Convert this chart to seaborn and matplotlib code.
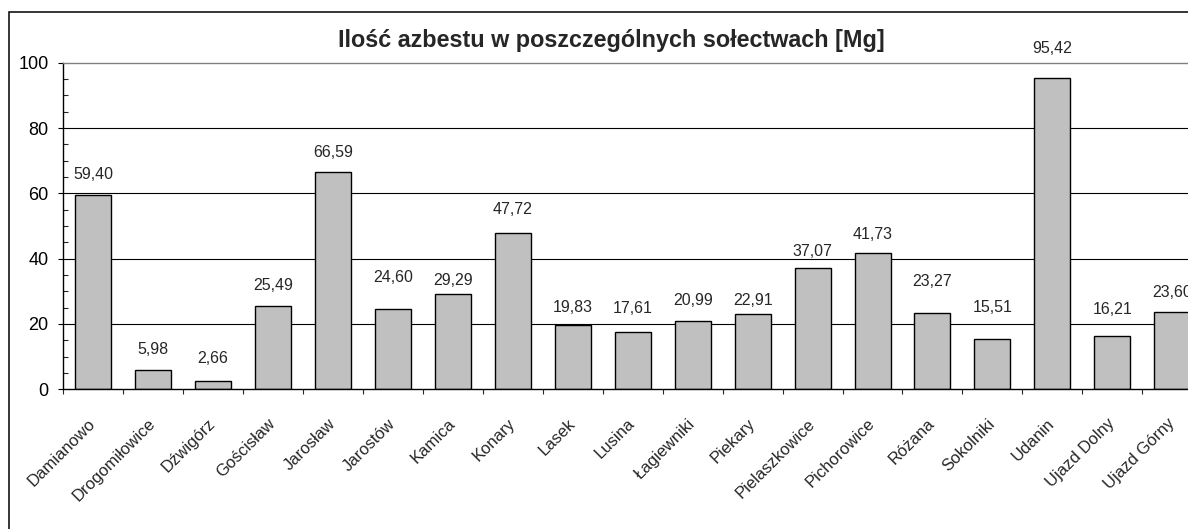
#!/usr/bin/env python3
"""
Wykres: ilość azbestu w poszczególnych sołectwach [Mg]
"""

import matplotlib
matplotlib.use('Agg')
import matplotlib.pyplot as plt
from matplotlib.patches import Rectangle
from matplotlib.ticker import MultipleLocator, FixedLocator
import seaborn as sns
import pandas as pd

# Dane
categories = ['Damianowo', 'Drogomiłowice', 'Dźwigórz', 'Gościsław', 'Jarosław',
              'Jarostów', 'Kamica', 'Konary', 'Lasek', 'Lusina', 'Łagiewniki',
              'Piekary', 'Pielaszkowice', 'Pichorowice', 'Różana', 'Sokolniki',
              'Udanin', 'Ujazd Dolny', 'Ujazd Górny']
values = [59.40, 5.98, 2.66, 25.49, 66.59, 24.60, 29.29, 47.72, 19.83, 17.61,
          20.99, 22.91, 37.07, 41.73, 23.27, 15.51, 95.42, 16.21, 23.60]
y_ticks = [0, 20, 40, 60, 80, 100]
title = 'Ilość azbestu w poszczególnych sołectwach [Mg]'

# przesunięcie etykiet nad słupkami (px), ręcznie ustawione jak w oryginale
label_lift_px = [21, 20, 22, 21, 19, 31, 13, 24, 17, 23, 20, 14, 17, 19, 32, 31, 29, 27, 20]

W, H = 1188, 529

sns.set_style('white')
plt.rcParams['font.family'] = ['Liberation Sans', 'DejaVu Sans']

fig = plt.figure(figsize=(W / 100, H / 100), dpi=100)
fig.patch.set_facecolor('white')

# obszar wykresu wychodzi poza prawą krawędź obrazka (jak w oryginale)
ax = fig.add_axes([63.3 / W, (H - 389.3) / H, 1138.9 / W, 326.6 / H])

df = pd.DataFrame({'solectwo': categories, 'ilosc': values})
sns.barplot(data=df, x='solectwo', y='ilosc', color='#C0C0C0', saturation=1,
            edgecolor='black', linewidth=1.0, width=0.6, ax=ax)

ax.set_xlim(-0.5, len(categories) - 0.5)
ax.set_ylim(0, 100)
ax.set_xlabel('')
ax.set_ylabel('')

# oś Y
ax.yaxis.set_major_locator(FixedLocator(y_ticks))
ax.yaxis.set_minor_locator(MultipleLocator(5))
ax.tick_params(axis='y', which='major', direction='out', length=3.6, width=0.8,
               pad=7, labelsize=13, left=True, colors='black')
ax.tick_params(axis='y', which='minor', direction='in', length=3.6, width=0.8, left=True)

# oś X: kreski na granicach kategorii, etykiety pod środkiem
ax.set_xticks(range(len(categories)))
ax.set_xticklabels(categories, rotation=45, ha='right', va='center',
                   rotation_mode='anchor', fontsize=12)
ax.xaxis.set_minor_locator(FixedLocator([i - 0.5 for i in range(len(categories) + 1)]))
ax.tick_params(axis='x', which='major', length=0, pad=23)
ax.tick_params(axis='x', which='minor', direction='out', length=3.6, width=0.8, bottom=True)

# linie siatki
ax.yaxis.grid(True, color='black', linewidth=0.8)
ax.set_axisbelow(True)
for line, t in zip(ax.get_ygridlines(), y_ticks):
    if t in (0, 100):
        line.set_visible(False)

for side in ['left', 'bottom']:
    ax.spines[side].set_color('black')
    ax.spines[side].set_linewidth(1.0)
for side in ['top', 'right']:
    ax.spines[side].set_color('#808080')
    ax.spines[side].set_linewidth(1.0)

# etykiety wartości
for i, (v, lift) in enumerate(zip(values, label_lift_px)):
    ax.annotate(f"{v:.2f}".replace('.', ','), xy=(i, v),
                xytext=(0, lift * 0.72), textcoords='offset points',
                ha='center', va='center', fontsize=11.5)

# tytuł
fig.text(611 / W, 1 - 40 / H, title, ha='center', va='center',
         fontsize=16.8, fontweight='bold')

# ramka obszaru wykresu
fig.add_artist(Rectangle((8.7 / W, -0.05), 1.2, (H - 12.3) / H + 0.05,
                         transform=fig.transFigure, fill=False,
                         edgecolor='black', linewidth=1.1))

fig.savefig('out.png', dpi=100)
plt.close(fig)
